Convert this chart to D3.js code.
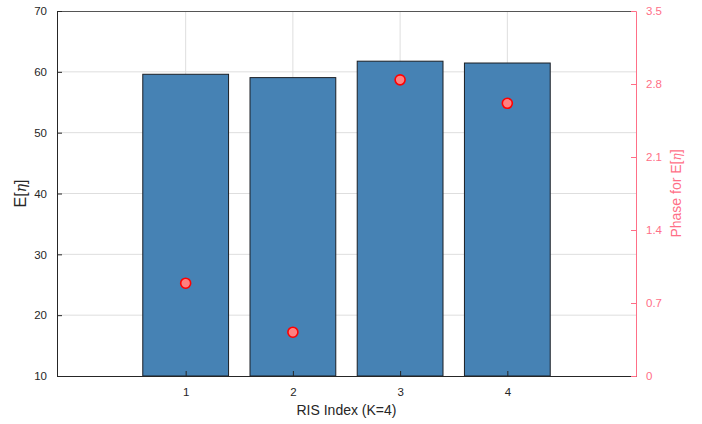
<!DOCTYPE html>
<html><head><meta charset="utf-8">
<script src="https://cdn.jsdelivr.net/npm/d3@7"></script>
<style>body{margin:0;background:#fff}svg{display:block}text{font-family:"Liberation Sans",Arial,sans-serif}</style>
</head><body><svg id="c" width="702" height="424"></svg>
<script>
const categories = [1, 2, 3, 4];
const magnitudes = [59.6, 59.05, 61.75, 61.45];
const phases = [0.89, 0.42, 2.84, 2.615];
const leftTicks = [10, 20, 30, 40, 50, 60, 70];
const rightTicks = [0, 0.7, 1.4, 2.1, 2.8, 3.5];

const svg = d3.select("#c");
const L = 57, R = 636, T = 11, B = 376;
const pink = "#ff6f87";
const x = d3.scaleLinear().domain([-0.2, 5.2]).range([L, R]);
const y = d3.scaleLinear().domain([10, 70]).range([B, T]);
const y2 = d3.scaleLinear().domain([0, 3.5]).range([B, T]);
const bw = x(0.8) - x(0);

// grid
const g = svg.append("g");
g.selectAll(".gy").data(leftTicks.slice(1, -1)).join("line")
  .attr("x1", L).attr("x2", R).attr("y1", d => y(d)).attr("y2", d => y(d))
  .attr("stroke", "#dedede").attr("stroke-width", 1);
g.selectAll(".gx").data(categories).join("line")
  .attr("x1", d => x(d)).attr("x2", d => x(d)).attr("y1", T).attr("y2", B)
  .attr("stroke", "#dedede").attr("stroke-width", 1);

// bars
svg.selectAll(".bar").data(categories).join("rect")
  .attr("x", (d) => x(d) - bw / 2).attr("width", bw)
  .attr("y", (d, i) => y(magnitudes[i])).attr("height", (d, i) => B - y(magnitudes[i]))
  .attr("fill", "#4682b4").attr("stroke", "#1b1f24").attr("stroke-width", 1);

// frame top
svg.append("line").attr("x1", L).attr("x2", R).attr("y1", T + 0.5).attr("y2", T + 0.5).attr("stroke", "#555").attr("stroke-width", 1);

// left axis
const ax = d3.axisLeft(y).tickValues(leftTicks).tickSize(-5).tickPadding(10).tickFormat(d3.format("d"));
const gl = svg.append("g").attr("transform", `translate(${L},0)`).call(ax);
gl.select(".domain").attr("stroke", "#262626");
gl.selectAll(".tick line").attr("stroke", "#262626");
gl.selectAll("text").attr("fill", "#262626").style("font-size", "11.5px");

// bottom axis
const bx = d3.axisBottom(x).tickValues(categories).tickSize(-5).tickPadding(12).tickFormat(d3.format("d"));
const gb = svg.append("g").attr("transform", `translate(0,${B})`).call(bx);
gb.select(".domain").attr("stroke", "#262626");
gb.selectAll(".tick line").attr("stroke", "#262626");
gb.selectAll("text").attr("fill", "#262626").style("font-size", "11.5px");

// right axis
const rx = d3.axisRight(y2).tickValues(rightTicks).tickSize(-5).tickPadding(10)
  .tickFormat(d => d === 0 ? "0" : d3.format(".1f")(d));
const gr = svg.append("g").attr("transform", `translate(${R},0)`).call(rx);
gr.select(".domain").attr("stroke", pink);
gr.selectAll(".tick line").attr("stroke", pink);
gr.selectAll("text").attr("fill", pink).style("font-size", "11.5px");

// markers
svg.selectAll(".pt").data(categories).join("circle")
  .attr("cx", d => x(d)).attr("cy", (d, i) => y2(phases[i])).attr("r", 5)
  .attr("fill", "#ff8080").attr("stroke", "#ff0000").attr("stroke-width", 1.6);

// labels
const yl = svg.append("text").attr("transform", `translate(26,${(T + B) / 2}) rotate(-90)`)
  .attr("text-anchor", "middle").attr("fill", "#262626").style("font-size", "16px");
yl.append("tspan").text("E[");
yl.append("tspan").text("η").style("font-family", "'DejaVu Serif',serif").style("font-style", "italic").style("font-size", "14px");
yl.append("tspan").text("]");

const rl = svg.append("text").attr("transform", `translate(681,${(T + B) / 2}) rotate(-90)`)
  .attr("text-anchor", "middle").attr("fill", pink).style("font-size", "14px");
rl.append("tspan").text("Phase for E[");
rl.append("tspan").text("η").style("font-family", "'DejaVu Serif',serif").style("font-style", "italic").style("font-size", "12px");
rl.append("tspan").text("]");

svg.append("text").attr("x", (L + R) / 2).attr("y", 415).attr("text-anchor", "middle")
  .attr("fill", "#262626").style("font-size", "14px").text("RIS Index (K=4)");
</script></body></html>
